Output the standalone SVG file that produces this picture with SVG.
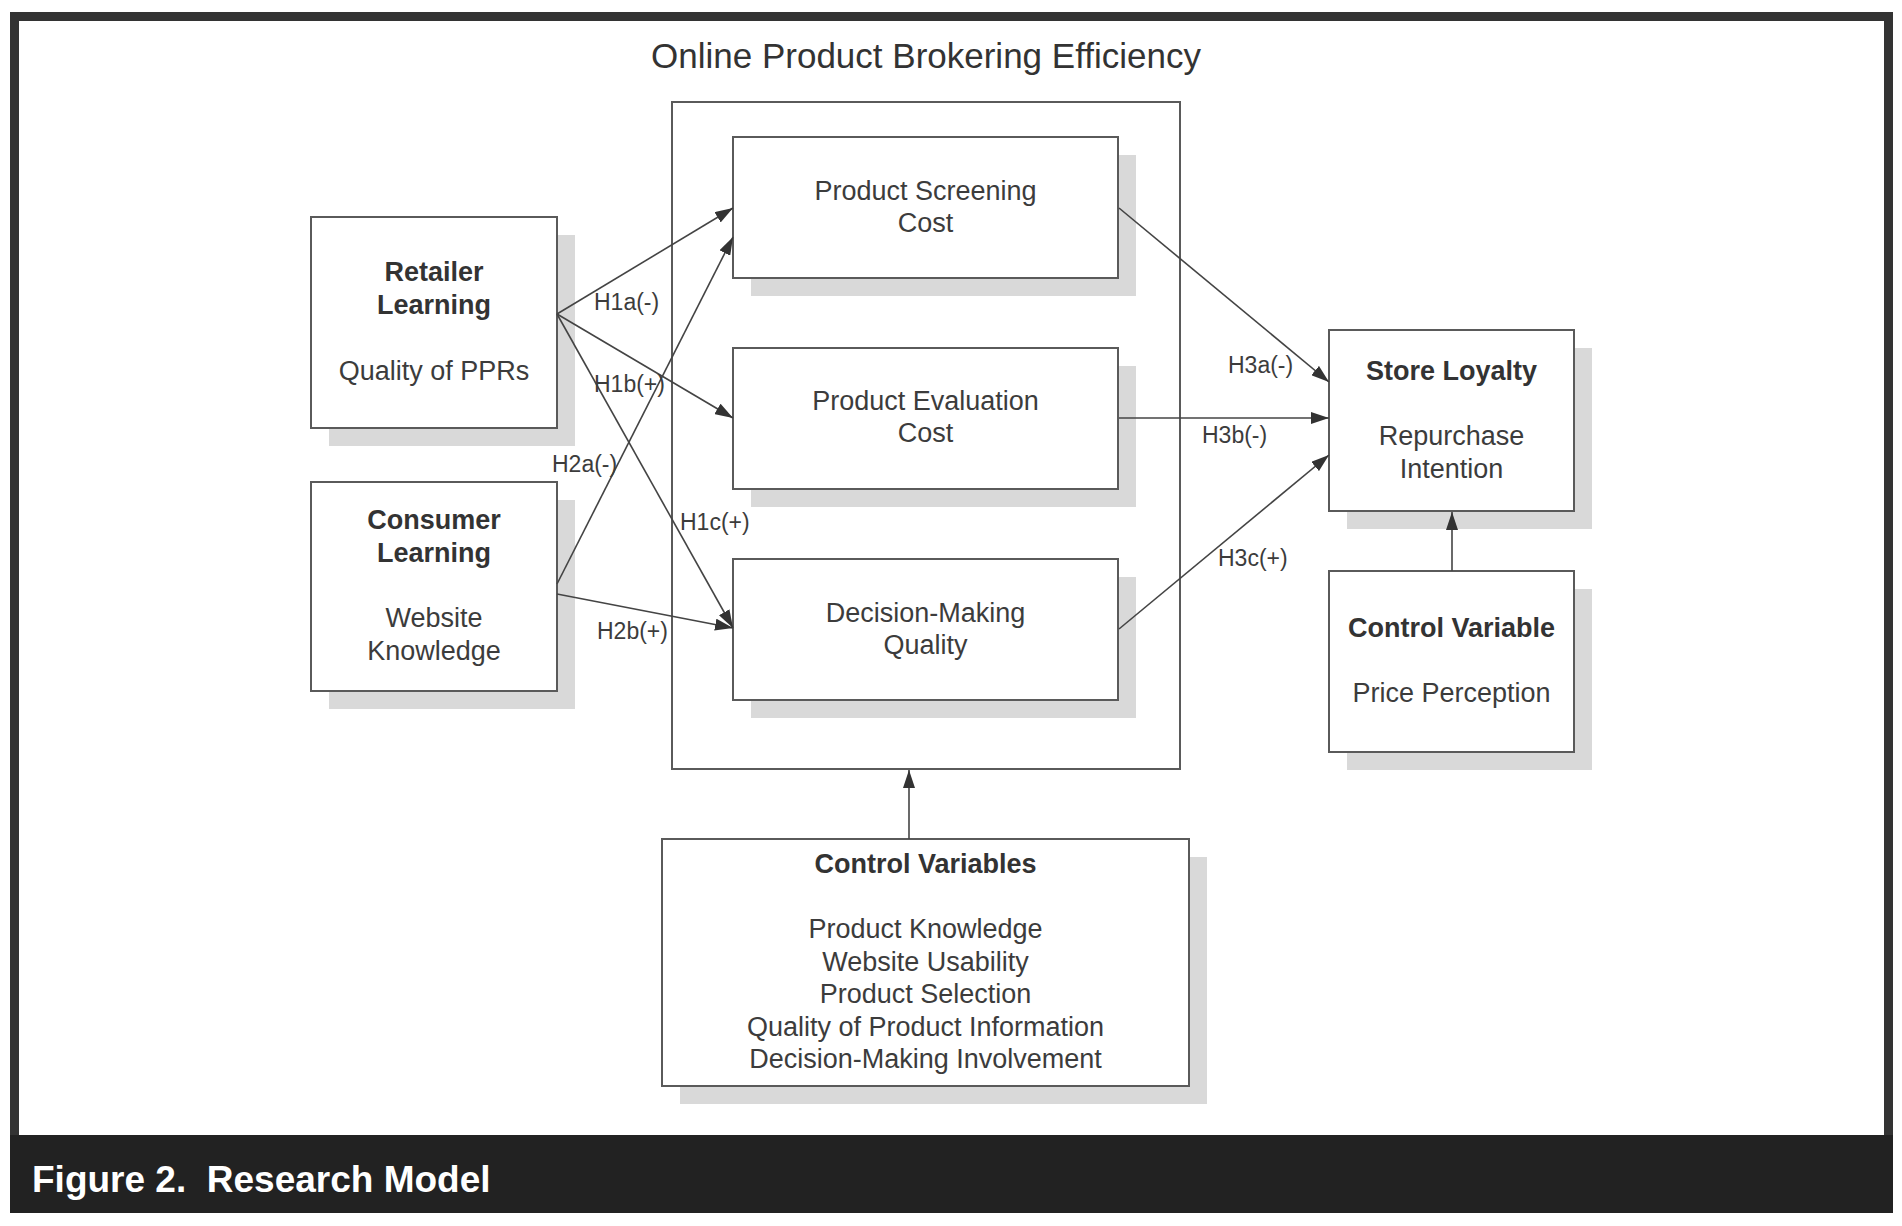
<svg xmlns="http://www.w3.org/2000/svg" width="1902" height="1226" viewBox="0 0 1902 1226">
<style>
.box{fill:#fff;stroke:#5a5a5a;stroke-width:2}
.shadow{fill:#d9d9d9}
.t{font-family:"Liberation Sans",Arial,sans-serif;font-size:27px;fill:#3c3c3c;text-anchor:middle}
.b{font-weight:bold;fill:#333}
.lbl{font-family:"Liberation Sans",Arial,sans-serif;font-size:23px;fill:#3c3c3c}
.conn{stroke:#444;stroke-width:1.6;fill:none;marker-end:url(#ah)}
</style>
<defs>
<marker id="ah" markerUnits="userSpaceOnUse" markerWidth="18" markerHeight="12" refX="18" refY="6" orient="auto">
<path d="M0,0 L18,6 L0,12 z" fill="#333"/>
</marker>
</defs>
<rect x="0" y="0" width="1902" height="1226" fill="#fff"/>
<!-- frame -->
<rect x="14.5" y="16.5" width="1874" height="1192" fill="#fff" stroke="#333" stroke-width="9"/>
<rect x="10" y="1135" width="1883" height="78" fill="#222"/>
<text x="32" y="1192" font-family="'Liberation Sans',Arial,sans-serif" font-size="37" font-weight="bold" fill="#fff" xml:space="preserve" style="white-space:pre">Figure 2.  Research Model</text>

<text x="926" y="68" font-family="'Liberation Sans',Arial,sans-serif" font-size="35" fill="#333" text-anchor="middle">Online Product Brokering Efficiency</text>

<g id="container">
<rect x="672" y="102" width="508" height="667" fill="none" stroke="#5a5a5a" stroke-width="2"/>
</g>

<g id="psc">
<rect class="shadow" x="751" y="155" width="385" height="141"/>
<rect class="box" x="733" y="137" width="385" height="141"/>
<text class="t" x="925.5" y="200">Product Screening</text>
<text class="t" x="925.5" y="232">Cost</text>
</g>
<g id="pec">
<rect class="shadow" x="751" y="366" width="385" height="141"/>
<rect class="box" x="733" y="348" width="385" height="141"/>
<text class="t" x="925.5" y="410">Product Evaluation</text>
<text class="t" x="925.5" y="442">Cost</text>
</g>
<g id="dmq">
<rect class="shadow" x="751" y="577" width="385" height="141"/>
<rect class="box" x="733" y="559" width="385" height="141"/>
<text class="t" x="925.5" y="622">Decision-Making</text>
<text class="t" x="925.5" y="654">Quality</text>
</g>

<g id="retailer">
<rect class="shadow" x="329" y="235" width="246" height="211"/>
<rect class="box" x="311" y="217" width="246" height="211"/>
<text class="t b" x="434" y="281">Retailer</text>
<text class="t b" x="434" y="314">Learning</text>
<text class="t" x="434" y="380">Quality of PPRs</text>
</g>
<g id="consumer">
<rect class="shadow" x="329" y="500" width="246" height="209"/>
<rect class="box" x="311" y="482" width="246" height="209"/>
<text class="t b" x="434" y="529">Consumer</text>
<text class="t b" x="434" y="562">Learning</text>
<text class="t" x="434" y="627">Website</text>
<text class="t" x="434" y="660">Knowledge</text>
</g>

<g id="loyalty">
<rect class="shadow" x="1347" y="348" width="245" height="181"/>
<rect class="box" x="1329" y="330" width="245" height="181"/>
<text class="t b" x="1451.5" y="380">Store Loyalty</text>
<text class="t" x="1451.5" y="445">Repurchase</text>
<text class="t" x="1451.5" y="478">Intention</text>
</g>
<g id="controlvar">
<rect class="shadow" x="1347" y="589" width="245" height="181"/>
<rect class="box" x="1329" y="571" width="245" height="181"/>
<text class="t b" x="1451.5" y="637">Control Variable</text>
<text class="t" x="1451.5" y="702">Price Perception</text>
</g>

<g id="controlvars">
<rect class="shadow" x="680" y="857" width="527" height="247"/>
<rect class="box" x="662" y="839" width="527" height="247"/>
<text class="t b" x="925.5" y="873">Control Variables</text>
<text class="t" x="925.5" y="938">Product Knowledge</text>
<text class="t" x="925.5" y="971">Website Usability</text>
<text class="t" x="925.5" y="1003">Product Selection</text>
<text class="t" x="925.5" y="1036">Quality of Product Information</text>
<text class="t" x="925.5" y="1068">Decision-Making Involvement</text>
</g>

<g id="connectors">
<line class="conn" x1="557" y1="314" x2="733" y2="208"/>
<line class="conn" x1="557" y1="314" x2="733" y2="418"/>
<line class="conn" x1="557" y1="314" x2="733" y2="628"/>
<line class="conn" x1="557" y1="584" x2="733" y2="237"/>
<line class="conn" x1="557" y1="594" x2="733" y2="628"/>
<line class="conn" x1="1119" y1="208" x2="1329" y2="382"/>
<line class="conn" x1="1119" y1="418" x2="1329" y2="418"/>
<line class="conn" x1="1119" y1="629" x2="1329" y2="455"/>
<line class="conn" x1="909" y1="839" x2="909" y2="770"/>
<line class="conn" x1="1452" y1="571" x2="1452" y2="512"/>
<text class="lbl" x="594" y="310">H1a(-)</text>
<text class="lbl" x="594" y="392">H1b(+)</text>
<text class="lbl" x="552" y="472">H2a(-)</text>
<text class="lbl" x="680" y="530">H1c(+)</text>
<text class="lbl" x="597" y="639">H2b(+)</text>
<text class="lbl" x="1228" y="373">H3a(-)</text>
<text class="lbl" x="1202" y="443">H3b(-)</text>
<text class="lbl" x="1218" y="566">H3c(+)</text>
</g>
</svg>
